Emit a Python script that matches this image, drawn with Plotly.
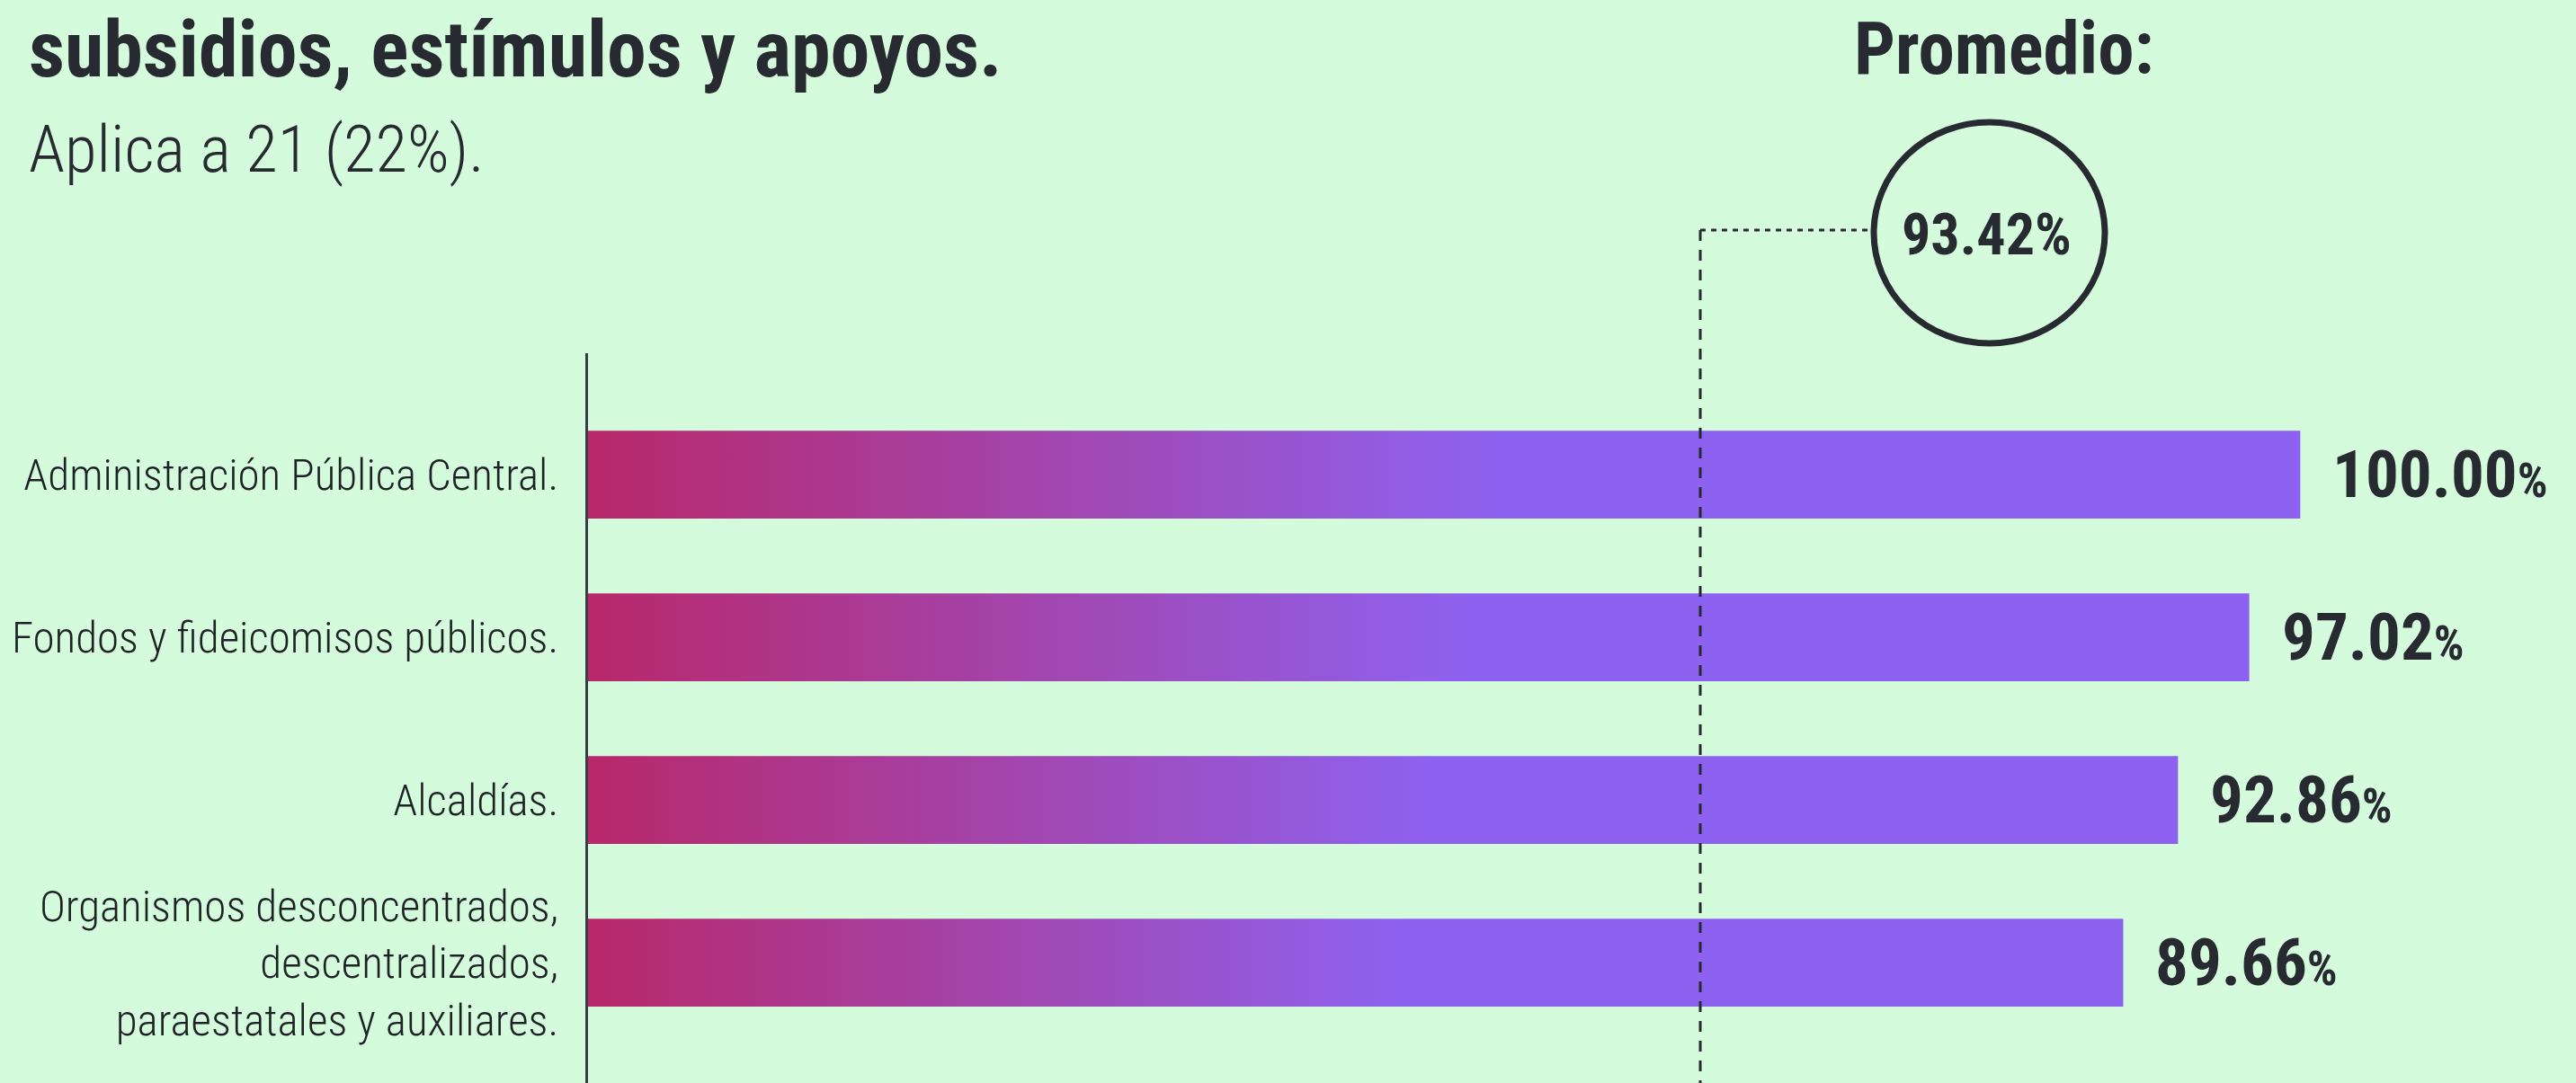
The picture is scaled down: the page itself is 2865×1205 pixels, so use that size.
import plotly.graph_objects as go

# ---------------- data ----------------
categories = [
    "Administración Pública Central.",
    "Fondos y fideicomisos públicos.",
    "Alcaldías.",
    "Organismos desconcentrados,<br>descentralizados,<br>paraestatales y auxiliares.",
]
values = [100.00, 97.02, 92.86, 89.66]
value_labels = ["100.00", "97.02", "92.86", "89.66"]
average = 93.42
average_label = "93.42%"
title_text = "subsidios, estímulos y apoyos."
subtitle_text = "Aplica a 21 (22%)."
average_title = "Promedio:"

# ---------------- style ----------------
W, H = 2865, 1205
ML, MR, MT, MB = 654, 21, 393, 0
PW, PH = W - ML - MR, H - MT - MB
BG = "#d4fbdb"
INK = "#272a30"
PINK = "#b8286a"
PURPLE = "#8e62f0"
FONT = "Roboto Condensed, Open Sans Condensed, Liberation Sans Narrow, DejaVu Sans Condensed, sans-serif"
BAR_HALF = 0.27


def px(x):
    return (x - ML) / PW


def py(y):
    return (H - MB - y) / PH


fig = go.Figure()

# gradient bars (one filled polygon per bar, built from the values)
for i, v in enumerate(values):
    fig.add_trace(go.Scatter(
        x=[0, v, v, 0, 0],
        y=[i - BAR_HALF, i - BAR_HALF, i + BAR_HALF, i + BAR_HALF, i - BAR_HALF],
        mode="lines",
        line=dict(width=0),
        fill="toself",
        fillcolor=PURPLE,
        fillgradient=dict(type="horizontal",
                          colorscale=[[0, PINK], [0.53, PURPLE], [1, PURPLE]]),
        hoverinfo="skip",
        showlegend=False,
    ))

annotations = []
# value labels
for i, (v, lab) in enumerate(zip(values, value_labels)):
    annotations.append(dict(
        x=v, y=i, xref="x", yref="y", xanchor="left", yanchor="middle",
        xshift=34, showarrow=False,
        text=f"<b>{lab}<span style='font-size:53px'>%</span></b>",
        font=dict(family=FONT, size=73, color=INK),
    ))

# title / subtitle
annotations.append(dict(
    x=px(30), y=py(54), xref="paper", yref="paper", xanchor="left", yanchor="middle",
    showarrow=False, text=f"<b>{title_text}</b>",
    font=dict(family=FONT, size=88, color=INK),
))
annotations.append(dict(
    x=px(30), y=py(166), xref="paper", yref="paper", xanchor="left", yanchor="middle",
    showarrow=False, text=subtitle_text,
    font=dict(family=FONT, size=73, color=INK, weight=300),
))
# average block
annotations.append(dict(
    x=px(2229), y=py(54), xref="paper", yref="paper", xanchor="center", yanchor="middle",
    showarrow=False, text=f"<b>{average_title}</b>",
    font=dict(family=FONT, size=81, color=INK),
))
annotations.append(dict(
    x=px(2209), y=py(262), xref="paper", yref="paper", xanchor="center", yanchor="middle",
    showarrow=False, text=f"<b>{average_label}</b>",
    font=dict(family=FONT, size=64, color=INK),
))

shapes = [
    # circle around the average
    dict(type="circle", xref="paper", yref="paper",
         x0=px(2084), x1=px(2341), y0=py(382), y1=py(136),
         line=dict(color=INK, width=7), layer="above"),
    # dotted connector
    dict(type="line", xref="paper", yref="paper",
         x0=px(1891), x1=px(2080), y0=py(256), y1=py(256),
         line=dict(color=INK, width=3, dash="6px,6px"), layer="above"),
    dict(type="line", xref="paper", yref="paper",
         x0=px(1891), x1=px(1891), y0=py(256), y1=py(H),
         line=dict(color=INK, width=3, dash="12px,10px"), layer="above"),
]

fig.update_layout(
    template="none",
    width=W, height=H,
    margin=dict(l=ML, r=MR, t=MT, b=MB, pad=0, autoexpand=False),
    paper_bgcolor=BG, plot_bgcolor=BG,
    showlegend=False,
    annotations=annotations,
    shapes=shapes,
    xaxis=dict(range=[0, 115], visible=False, fixedrange=True, automargin=False),
    yaxis=dict(
        range=[3.74, -0.746],
        tickmode="array", tickvals=list(range(len(categories))), ticktext=categories,
        showgrid=False, zeroline=False, automargin=False,
        showline=True, linecolor="#3a3e44", linewidth=3,
        ticks="", ticklabelstandoff=20,
        tickfont=dict(family=FONT, size=49, color="#1e2126", weight=300),
        fixedrange=True,
    ),
)

fig.write_html(
    "out.html",
    config={"displayModeBar": False},
    post_script="document.body.style.margin='0';document.body.style.overflow='hidden';",
)
